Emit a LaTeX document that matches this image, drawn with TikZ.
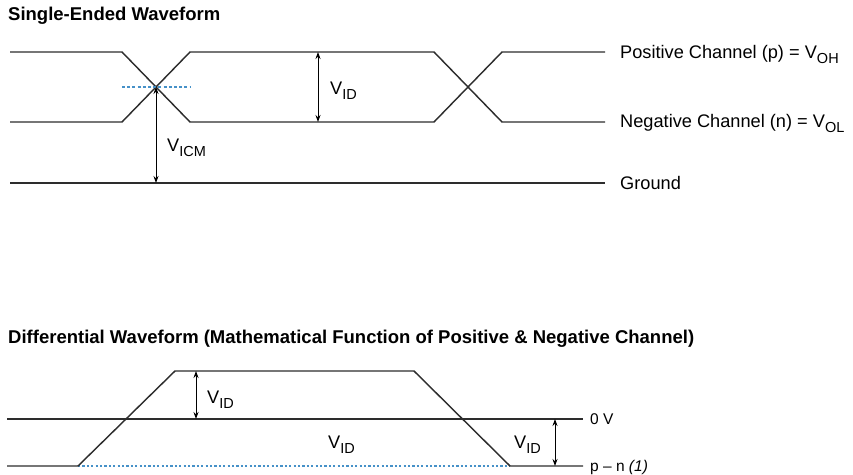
\documentclass[tikz,border=0pt]{standalone}
\usepackage{fontspec}
\setmainfont{Liberation Sans}
\usetikzlibrary{arrows.meta}
\definecolor{wave}{RGB}{45,45,45}
\definecolor{dotblue}{RGB}{70,145,200}
\newcommand{\lsub}[1]{\raisebox{-0.32em}{\fontsize{14.5}{16}\selectfont #1}}
\tikzset{
  wire/.style={draw=wave, line width=1.45pt, line join=miter},
  refline/.style={draw=dotblue, line width=1.3pt, dash pattern=on 3pt off 2.2pt},
  dim/.style={draw=black, line width=0.9pt, {Stealth[length=7pt,width=5pt]}-{Stealth[length=7pt,width=5pt]}},
  title/.style={font=\bfseries\fontsize{18.5}{20}\selectfont, anchor=base west, inner sep=0pt},
  lab/.style={font=\fontsize{18.2}{20}\selectfont, anchor=base west, inner sep=0pt},
  slab/.style={font=\fontsize{15.5}{18}\selectfont, anchor=base west, inner sep=0pt}
}
\begin{document}
\begin{tikzpicture}[x=1pt,y=-1pt]
\useasboundingbox (0,0) rectangle (853,474);
% ---------- single-ended ----------
\node[title] (t1) at (8,20) {Single-Ended Waveform};
\coordinate (a1) at (10,52);  \coordinate (a2) at (122,52);
\coordinate (a3) at (190,122); \coordinate (a4) at (434,122);
\coordinate (a5) at (502,52);  \coordinate (a6) at (605,52);
\coordinate (b1) at (10,122); \coordinate (b2) at (122,122);
\coordinate (b3) at (190,52); \coordinate (b4) at (434,52);
\coordinate (b5) at (502,122); \coordinate (b6) at (605,122);
\coordinate (g1) at (10,183); \coordinate (g2) at (605,183);
\draw[wire] (a1) -- (a2) -- (a3) -- (a4) -- (a5) -- (a6);
\draw[wire] (b1) -- (b2) -- (b3) -- (b4) -- (b5) -- (b6);
\draw[wire] (g1) -- (g2);
\coordinate (x1) at (156,87);
\coordinate (d1) at (122,87); \coordinate (d2) at (190,87);
\draw[refline] (d1) -- (d2);
\coordinate (gx) at (156,183);
\draw[dim] (x1) -- (gx);
\node[lab] (vicm) at (167,151) {V\lsub{ICM}};
\coordinate (v1) at (318,52); \coordinate (v2) at (318,122);
\draw[dim] (v1) -- (v2);
\node[lab] (vid1) at (330,94) {V\lsub{ID}};
\node[lab] (lp) at (620,58) {Positive Channel (p) = V\lsub{OH}};
\node[lab] (ln) at (620,127) {Negative Channel (n) = V\lsub{OL}};
\node[lab] (lg) at (620,189) {Ground};
% ---------- differential ----------
\node[title] (t2) at (8,343) {Differential Waveform (Mathematical Function of Positive \& Negative Channel)};
\coordinate (z1) at (7,419); \coordinate (z2) at (583,419);
\draw[wire] (z1) -- (z2);
\coordinate (w1) at (7,466);  \coordinate (w2) at (78,466);
\coordinate (w3) at (175,371); \coordinate (w4) at (414,371);
\coordinate (w5) at (510,466); \coordinate (w6) at (583,466);
\draw[refline, dash pattern=on 2.2pt off 2.2pt] (w2) -- (w5);
\draw[wire] (w1) -- (w2) -- (w3) -- (w4) -- (w5) -- (w6);
\coordinate (u1) at (196,371); \coordinate (u2) at (196,419);
\draw[dim] (u1) -- (u2);
\node[lab] (vid2) at (207,403) {V\lsub{ID}};
\node[lab] (vid3) at (328,448) {V\lsub{ID}};
\coordinate (r1) at (555,419); \coordinate (r2) at (555,466);
\draw[dim] (r1) -- (r2);
\node[lab] (vid4) at (514,448) {V\lsub{ID}};
\node[slab] (l0) at (590,424) {0 V};
\node[slab] (lpn) at (590,471) {p – n \textit{(1)}};
\end{tikzpicture}
\end{document}
